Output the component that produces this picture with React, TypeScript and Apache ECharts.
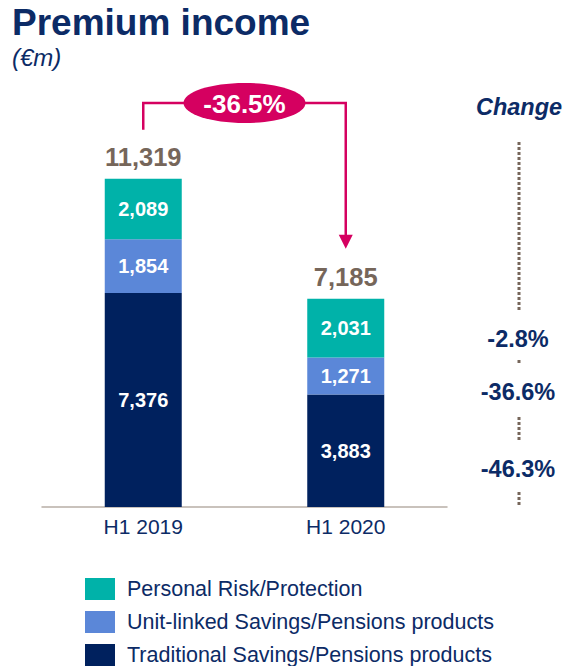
import React, { useEffect, useRef } from "react";
import * as echarts from "echarts";

const categories = ["H1 2019", "H1 2020"];
const traditional = [7376, 3883];
const unitLinked = [1854, 1271];
const personalRisk = [2089, 2031];
const seriesNames = [
  "Traditional Savings/Pensions products",
  "Unit-linked Savings/Pensions products",
  "Personal Risk/Protection",
];
const totalChange = "-36.5%";
const changeLabels = ["-2.8%", "-36.6%", "-46.3%"];

const NAVY = "#00215E";
const BLUE = "#5B87D8";
const TEAL = "#00B2A9";
const TEXT_NAVY = "#0C2B66";
const BROWN = "#76665A";
const MAGENTA = "#D50060";
const FONT = "Liberation Sans";

export default function App() {
  const ref = useRef<HTMLDivElement>(null);
  useEffect(() => {
    document.body.style.margin = "0";
    const chart = echarts.init(ref.current!, null, { renderer: "svg" });
    const totals = categories.map((_, i) => traditional[i] + unitLinked[i] + personalRisk[i]);
    const fmt = (v: number) => v.toLocaleString("en-US");
    const segLabel = {
      show: true,
      position: "inside",
      color: "#fff",
      fontWeight: "bold",
      fontSize: 20,
      fontFamily: FONT,
      textBorderWidth: 0,
      formatter: (p: any) => fmt(p.value),
    };
    chart.setOption({
      animation: false,
      textStyle: { fontFamily: FONT },
      grid: { left: 42, right: 117, top: 101, bottom: 159 },
      xAxis: {
        type: "category",
        data: categories,
        axisLine: { lineStyle: { color: "#B8AEA6", width: 1.5 } },
        axisTick: { show: false },
        axisLabel: { color: TEXT_NAVY, fontSize: 21, fontFamily: FONT, margin: 9 },
      },
      yAxis: { type: "value", min: 0, max: 14000, show: false, splitLine: { show: false } },
      legend: {
        orient: "vertical",
        left: 85,
        top: 578,
        padding: 0,
        itemWidth: 30,
        itemHeight: 22,
        itemGap: 11,
        icon: "rect",
        data: [seriesNames[2], seriesNames[1], seriesNames[0]],
        textStyle: { color: TEXT_NAVY, fontSize: 21.5, fontFamily: FONT, padding: [0, 0, 0, 7] },
      },
      series: [
        { name: seriesNames[0], type: "bar", stack: "a", barWidth: 77, data: traditional, itemStyle: { color: NAVY }, label: segLabel },
        { name: seriesNames[1], type: "bar", stack: "a", data: unitLinked, itemStyle: { color: BLUE }, label: segLabel },
        { name: seriesNames[2], type: "bar", stack: "a", data: personalRisk, itemStyle: { color: TEAL }, label: segLabel },
        {
          name: "Total",
          type: "scatter",
          data: totals,
          symbolSize: 1,
          itemStyle: { color: "transparent" },
          label: {
            show: true,
            position: "top",
            distance: 8,
            color: BROWN,
            opacity: 1,
            textBorderWidth: 0,
            fontWeight: "bold",
            fontSize: 25.5,
            fontFamily: FONT,
            formatter: (p: any) => fmt(p.value),
          },
        },
      ],
    });

    const p1 = chart.convertToPixel({ gridIndex: 0 }, [0, totals[0]]) as number[];
    const p2 = chart.convertToPixel({ gridIndex: 0 }, [1, totals[1]]) as number[];
    const lineY = 103;
    const midX = (p1[0] + p2[0]) / 2;
    const tipY = p2[1] - 50;
    const changeX = 519;
    const dots: [number, number][] = [
      [142, 310],
      [360, 364],
      [417, 442],
      [492, 507],
    ];
    const changeY = [339, 391.5, 468.5];

    chart.setOption({
      graphic: [
        { type: "text", x: 12, y: 22, style: { text: "Premium income", font: `bold 37px ${FONT}`, fill: TEXT_NAVY, verticalAlign: "middle" } },
        { type: "text", x: 12, y: 57, style: { text: "(€m)", font: `italic 24px ${FONT}`, fill: TEXT_NAVY, verticalAlign: "middle" } },
        {
          type: "polyline",
          shape: { points: [[p1[0], p1[1] - 49], [p1[0], lineY], [p2[0], lineY], [p2[0], tipY - 12]] },
          style: { stroke: MAGENTA, lineWidth: 2.5, fill: null },
        },
        {
          type: "polygon",
          shape: { points: [[p2[0] - 7, tipY - 14], [p2[0] + 7, tipY - 14], [p2[0], tipY]] },
          style: { fill: MAGENTA },
        },
        { type: "ellipse", shape: { cx: midX, cy: lineY, rx: 61, ry: 20 }, style: { fill: MAGENTA } },
        { type: "text", x: midX, y: 103.5, style: { text: totalChange, font: `bold 26px ${FONT}`, fill: "#fff", align: "center", verticalAlign: "middle" } },
        { type: "text", x: changeX, y: 107, style: { text: "Change", font: `italic bold 23.5px ${FONT}`, fill: TEXT_NAVY, align: "center", verticalAlign: "middle" } },
        ...dots.map(([a, b]) => ({
          type: "line",
          shape: { x1: changeX, y1: a, x2: changeX, y2: b },
          style: { stroke: BROWN, lineWidth: 3, lineDash: [3, 2] },
        })),
        ...changeLabels.map((t, i) => ({
          type: "text",
          x: changeX - 1,
          y: changeY[i],
          style: { text: t, font: `bold 23.5px ${FONT}`, fill: TEXT_NAVY, align: "center", verticalAlign: "middle" },
        })),
      ],
    });
    return () => chart.dispose();
  }, []);
  return <div ref={ref} style={{ width: 564, height: 666 }} />;
}
